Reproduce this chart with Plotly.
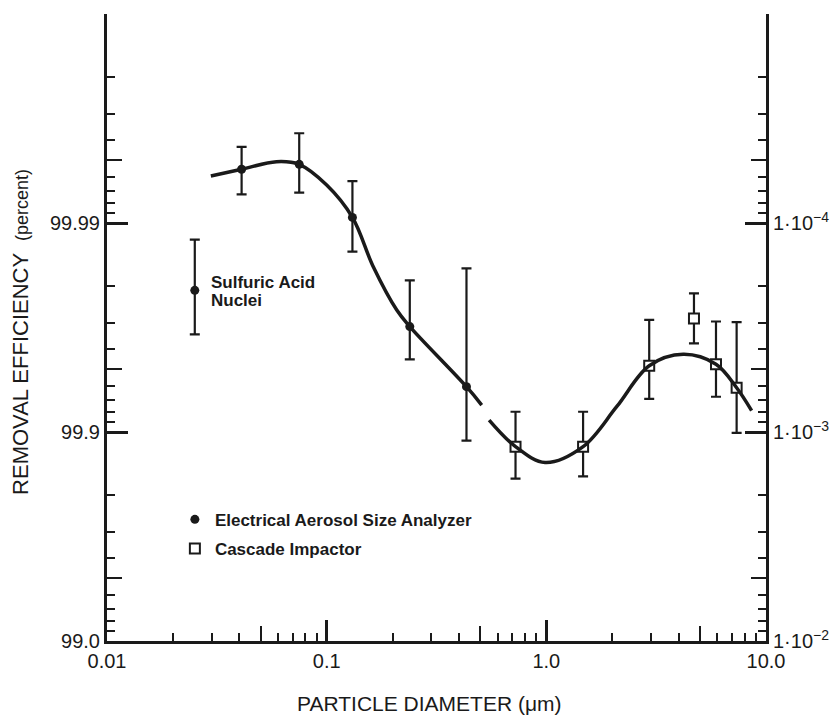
import math
import plotly.graph_objects as go

# ---- data (penetration = 1 - efficiency, as fraction) ----
eaa_d = [0.041, 0.075, 0.131, 0.239, 0.433]
eaa_p = [5.53e-5, 5.24e-5, 9.4e-5, 3.13e-4, 6.07e-4]
eaa_lo = [4.32e-5, 3.72e-5, 6.3e-5, 1.88e-4, 1.65e-4]
eaa_hi = [7.30e-5, 7.16e-5, 1.37e-4, 4.49e-4, 1.10e-3]

sa_d = [0.0251]
sa_p = [2.10e-4]
sa_lo = [1.20e-4]
sa_hi = [3.41e-4]

ci_d = [0.724, 1.47, 2.94, 4.70, 5.92, 7.35]
ci_p = [1.175e-3, 1.175e-3, 4.82e-4, 2.86e-4, 4.74e-4, 6.14e-4]
ci_lo = [8.0e-4, 8.0e-4, 2.91e-4, 2.17e-4, 2.96e-4, 2.98e-4]
ci_hi = [1.67e-3, 1.63e-3, 6.95e-4, 3.77e-4, 6.78e-4, 1.01e-3]

curve1_d = [0.0297, 0.041, 0.0591, 0.0748, 0.1, 0.131, 0.163, 0.2085, 0.239, 0.433, 0.508]
curve1_p = [5.96e-5, 5.53e-5, 5.09e-5, 5.24e-5, 6.58e-5, 9.4e-5, 1.62e-4, 2.61e-4, 3.13e-4, 6.07e-4, 7.43e-4]
curve2_d = [0.549, 0.724, 0.987, 1.47, 2.09, 2.94, 4.20, 5.92, 7.35, 8.6]
curve2_p = [8.77e-4, 1.175e-3, 1.40e-3, 1.175e-3, 7.57e-4, 4.82e-4, 4.25e-4, 4.74e-4, 6.14e-4, 7.9e-4]

x_tickvals = [0.01, 0.1, 1, 10]
x_ticktext = ["0.01", "0.1", "1.0", "10.0"]
y_tickvals = [1e-2, 1e-3, 1e-4]
y_left_text = ["99.0", "99.9", "99.99"]
y_right_text = ["1·10<sup>−2</sup>", "1·10<sup>−3</sup>", "1·10<sup>−4</sup>"]

FONT = "Liberation Sans, Arial, Helvetica, sans-serif"
INK = "#1a1a1a"

def minor_vals(e0, e1, digits):
    return [d * 10 ** e for e in range(e0, e1) for d in digits]

x_minor = minor_vals(-2, 1, [2, 3, 4, 6, 7, 8, 9])
x_five = minor_vals(-2, 1, [5])
y_minor = minor_vals(-5, -2, [2, 3, 4, 6, 7, 8, 9])
y_five = minor_vals(-5, -2, [5])
y_top = [1e-5]

XR = [-2, 1]
YR = [-2, -5]

fig = go.Figure()

err_style = dict(type="data", symmetric=False, color=INK, thickness=2.2, width=5)

fig.add_trace(go.Scatter(
    x=curve1_d + [None] + curve2_d, y=curve1_p + [None] + curve2_p,
    mode="lines", line=dict(color=INK, width=3.5, shape="spline", smoothing=1.0),
    showlegend=False, hoverinfo="skip", xaxis="x2", yaxis="y4", connectgaps=False))

fig.add_trace(go.Scatter(
    x=eaa_d, y=eaa_p, mode="markers", name="Electrical Aerosol Size Analyzer",
    marker=dict(symbol="circle", size=9, color=INK),
    error_y=dict(array=[h - p for h, p in zip(eaa_hi, eaa_p)],
                 arrayminus=[p - l for l, p in zip(eaa_lo, eaa_p)], **err_style),
    legendgroup="a", xaxis="x", yaxis="y"))

fig.add_trace(go.Scatter(
    x=sa_d, y=sa_p, mode="markers", showlegend=False,
    marker=dict(symbol="circle", size=9, color=INK),
    error_y=dict(array=[h - p for h, p in zip(sa_hi, sa_p)],
                 arrayminus=[p - l for l, p in zip(sa_lo, sa_p)], **err_style),
    xaxis="x", yaxis="y2"))

fig.add_trace(go.Scatter(
    x=ci_d, y=ci_p, mode="markers", name="Cascade Impactor",
    marker=dict(symbol="square", size=10, color="white", line=dict(color=INK, width=2)),
    error_y=dict(array=[h - p for h, p in zip(ci_hi, ci_p)],
                 arrayminus=[p - l for l, p in zip(ci_lo, ci_p)], **err_style),
    legendgroup="b", xaxis="x2", yaxis="y3"))

tickfont = dict(family=FONT, size=20, color=INK)
major = dict(ticks="inside", ticklen=21, tickwidth=2.5, tickcolor=INK)
minor_small = dict(ticks="inside", ticklen=8, tickwidth=2, tickcolor=INK, showgrid=False)
minor_five = dict(ticks="inside", ticklen=15, tickwidth=2, tickcolor=INK, showgrid=False)
base = dict(showgrid=False, zeroline=False, automargin=False)

fig.update_layout(
    width=836, height=715,
    margin=dict(l=107, r=70, t=14, b=74),
    paper_bgcolor="white", plot_bgcolor="white",
    font=dict(family=FONT, color=INK),
    xaxis=dict(type="log", range=XR, showline=True, linecolor=INK, linewidth=3,
               tickvals=x_tickvals, ticktext=x_ticktext, tickfont=tickfont,
               minor=dict(tickvals=x_minor, **minor_small), **major, **base),
    xaxis2=dict(type="log", range=XR, overlaying="x", side="bottom", showline=False,
                tickvals=x_five, showticklabels=False,
                ticks="inside", ticklen=15, tickwidth=2, tickcolor=INK, **base),
    yaxis=dict(type="log", range=YR, showline=True, linecolor=INK, linewidth=3,
               tickvals=y_tickvals, ticktext=y_left_text, tickfont=tickfont,
               minor=dict(tickvals=y_minor, **minor_small), **major, **base),
    yaxis2=dict(type="log", range=YR, overlaying="y", side="right",
                showline=True, linecolor=INK, linewidth=3,
                tickvals=y_tickvals, ticktext=y_right_text,
                tickfont=dict(family=FONT, size=20, color=INK),
                minor=dict(tickvals=y_minor, **minor_small), **major, **base),
    yaxis3=dict(type="log", range=YR, overlaying="y", side="left", showline=False,
                tickvals=y_top, showticklabels=False,
                minor=dict(tickvals=y_five, **minor_five), **major, **base),
    yaxis4=dict(type="log", range=YR, overlaying="y", side="right", showline=False,
                tickvals=y_top, showticklabels=False,
                minor=dict(tickvals=y_five, **minor_five), **major, **base),
    legend=dict(x=0.103, y=0.222, xanchor="left", yanchor="top",
                bgcolor="rgba(0,0,0,0)", traceorder="grouped", tracegroupgap=4,
                font=dict(family=FONT, size=17, color=INK, weight="bold")),
    showlegend=True,
)

ann_font = dict(family=FONT, size=17, color=INK, weight="bold")
fig.add_annotation(
    text="Sulfuric Acid", xref="x", yref="y",
    x=math.log10(sa_d[0]), y=math.log10(sa_p[0]), xshift=14, yshift=8,
    xanchor="left", yanchor="middle", align="left", showarrow=False, font=ann_font)
fig.add_annotation(
    text="Nuclei", xref="x", yref="y",
    x=math.log10(sa_d[0]), y=math.log10(sa_p[0]), xshift=14, yshift=-10,
    xanchor="left", yanchor="middle", align="left", showarrow=False, font=ann_font)

fig.add_annotation(
    text="REMOVAL EFFICIENCY  <span style='font-size:18px'>(percent)</span>",
    xref="paper", yref="paper", x=0, y=0.493, xshift=-86, textangle=-90,
    xanchor="center", yanchor="middle", showarrow=False,
    font=dict(family=FONT, size=22, color=INK))

fig.add_annotation(
    text="PARTICLE DIAMETER (μm)", xref="paper", yref="paper",
    x=0.489, y=0, yshift=-62, xanchor="center", yanchor="middle", showarrow=False,
    font=dict(family=FONT, size=21, color=INK))

fig.write_html("out.html")
